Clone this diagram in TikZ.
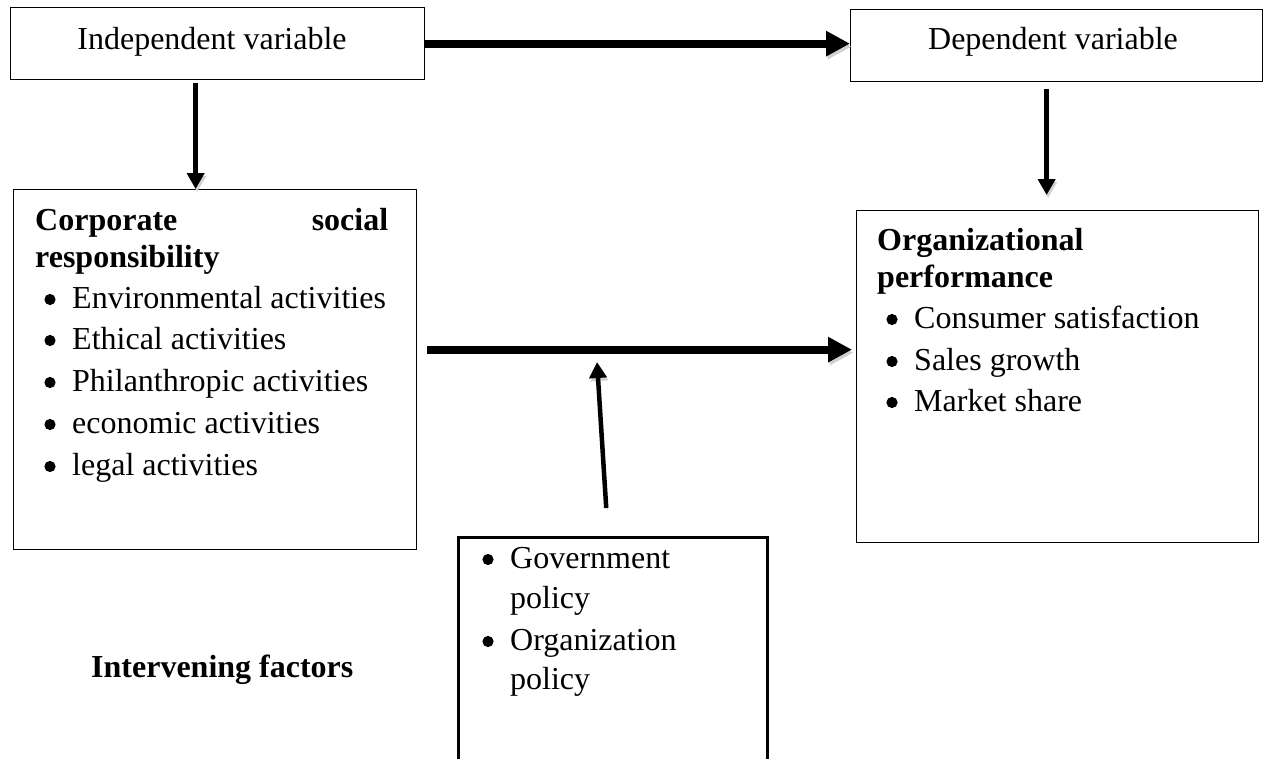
\documentclass[tikz,border=0pt]{standalone}
\usepackage{fontspec}
\setmainfont{Liberation Serif}
\usetikzlibrary{arrows.meta,calc}
\begin{document}
\begin{tikzpicture}[x=1pt,y=-1pt,
  box/.style={draw=black, line width=1.3pt, inner sep=0pt, anchor=north west},
  txt/.style={anchor=base west, inner sep=0pt, font=\fontsize{32}{40}\selectfont},
  txtb/.style={txt, font=\fontsize{32}{40}\selectfont\bfseries},
  blt/.style={fill=black},
  shadowed/.style={preaction={draw=black!18, transform canvas={shift={(1.5pt,-3pt)}}}},
  bigarrow/.style={shadowed, line width=8pt, -{Triangle[length=24pt,width=24pt]}},
  smallarrow/.style={shadowed, line width=4.5pt, -{Triangle[length=16pt,width=17pt]}}
]
\useasboundingbox (0,0) rectangle (1264,758);

% boxes
\node[box, minimum width=414pt, minimum height=72pt] (iv) at (10,7) {};
\node[box, minimum width=412pt, minimum height=72pt] (dv) at (850,9) {};
\node[box, minimum width=403pt, minimum height=360pt] (csr) at (13,189) {};
\node[box, minimum width=402pt, minimum height=332pt] (op) at (856,210) {};
\node[box, line width=2.5pt, minimum width=309pt, minimum height=240pt] (ib) at (457,536) {};

% titles of top boxes
\node[txt, anchor=base] (ivt) at (212,49) {Independent variable};
\node[txt, anchor=base] (dvt) at (1053,49) {Dependent variable};

% CSR box text
\node[txtb] (csr1) at (35,230) {\makebox[353pt][s]{Corporate social}};
\node[txtb] (csr2) at (35,267) {responsibility};
\node[txt] (csra) at (72,308) {Environmental activities};
\node[txt] (csrb) at (72,349) {Ethical activities};
\node[txt] (csrc) at (72,391) {Philanthropic activities};
\node[txt] (csrd) at (72,433) {economic activities};
\node[txt] (csre) at (72,475) {legal activities};
\foreach \yb in {308,349,391,433,475} \fill[blt] (50,\yb-8.5) circle (5.6pt);

% OP box text
\node[txtb] (op1) at (877,250) {Organizational};
\node[txtb] (op2) at (877,287) {performance};
\node[txt] (opa) at (914,328) {Consumer satisfaction};
\node[txt] (opb) at (914,370) {Sales growth};
\node[txt] (opc) at (914,411) {Market share};
\foreach \yb in {328,370,411} \fill[blt] (892,\yb-8.5) circle (5.6pt);

% intervening box text
\node[txt] (iba) at (510,568) {Government};
\node[txt] (ibb) at (510,608) {policy};
\node[txt] (ibc) at (510,650) {Organization};
\node[txt] (ibd) at (510,689) {policy};
\foreach \yb in {568,650} \fill[blt] (488,\yb-8.5) circle (5.6pt);

\node[txtb] (intf) at (91,677) {Intervening factors};

% connectors
\draw[bigarrow] (iv.east) -- (iv.east -| dv.west);
\draw[smallarrow] ([xshift=-22pt,yshift=-3pt]iv.south) -- ([xshift=-19.5pt]csr.north);
\draw[smallarrow] ([xshift=-10pt,yshift=-7pt]dv.south) -- ([xshift=-11pt,yshift=15pt]op.north);
\coordinate (m1) at ([shift={(10pt,20pt)}]csr.east);
\draw[bigarrow, shorten >=4pt] (m1) -- (m1 -| op.west);
\coordinate (m2) at (597,362);
\draw[smallarrow] ([xshift=-6.5pt,yshift=28pt]ib.north) -- (m2);
\end{tikzpicture}
\end{document}
